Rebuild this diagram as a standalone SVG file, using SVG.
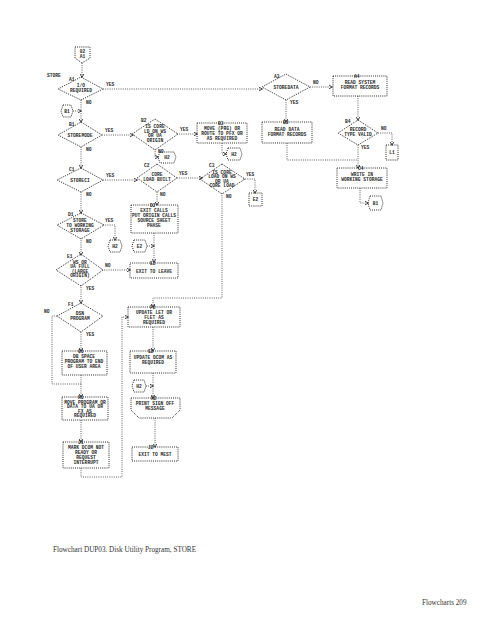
<svg xmlns="http://www.w3.org/2000/svg" width="495" height="640" viewBox="0 0 495 640">
<style>
.ln{fill:none;stroke:#3a3a3a;stroke-width:0.9;stroke-dasharray:0.9 1.3}
.sh{fill:none;stroke:#2a2a2a;stroke-width:1;stroke-dasharray:1 1.1}
.t{font-family:"Liberation Mono","DejaVu Sans Mono",monospace;font-size:4.6px;font-weight:bold;fill:#2a2a2a;text-anchor:middle}
.lb{font-family:"Liberation Mono","DejaVu Sans Mono",monospace;font-size:4.6px;font-weight:bold;fill:#2a2a2a}
.cap{font-family:"Liberation Serif","Times New Roman",serif;font-size:7.2px;fill:#333}
</style>
<defs>
<marker id="ar" viewBox="0 0 4 4" refX="3.5" refY="2" markerWidth="4" markerHeight="4" orient="auto" markerUnits="userSpaceOnUse">
<path d="M0,0 L4,2 L0,4" fill="none" stroke="#2a2a2a" stroke-width="0.8"/>
</marker>
</defs>
<rect width="495" height="640" fill="#fff"/>

<g id="connectors">
<path class="ln" d="M82,63 V77" marker-end="url(#ar)"/>
<path class="ln" d="M103,89 H262" marker-end="url(#ar)"/>
<path class="ln" d="M81,100 V122" marker-end="url(#ar)"/>
<path class="ln" d="M73,111 H81" marker-end="url(#ar)"/>
<path class="ln" d="M102,135 H133" marker-end="url(#ar)"/>
<path class="ln" d="M81,147 V168" marker-end="url(#ar)"/>
<path class="ln" d="M177,134 H197" marker-end="url(#ar)"/>
<path class="ln" d="M155,149 V157 H158" marker-end="url(#ar)"/>
<path class="ln" d="M222,143 V154 H226" marker-end="url(#ar)"/>
<path class="ln" d="M103,180 H137" marker-end="url(#ar)"/>
<path class="ln" d="M177,178 H202" marker-end="url(#ar)"/>
<path class="ln" d="M243,179 H255 V193" marker-end="url(#ar)"/>
<path class="ln" d="M222,193 V298 H153 V307" marker-end="url(#ar)"/>
<path class="ln" d="M157,192 V205" marker-end="url(#ar)"/>
<path class="ln" d="M154,233 V262" marker-end="url(#ar)"/>
<path class="ln" d="M147,246 H154" marker-end="url(#ar)"/>
<path class="ln" d="M81,192 V213" marker-end="url(#ar)"/>
<path class="ln" d="M103,225 H115 V240" marker-end="url(#ar)"/>
<path class="ln" d="M81,238 V255" marker-end="url(#ar)"/>
<path class="ln" d="M102,270 H130" marker-end="url(#ar)"/>
<path class="ln" d="M81,285 V303" marker-end="url(#ar)"/>
<path class="ln" d="M57,316 H52 V384 H81"/>
<path class="ln" d="M81,332 V351" marker-end="url(#ar)"/>
<path class="ln" d="M81,375 V397" marker-end="url(#ar)"/>
<path class="ln" d="M81,420 V442" marker-end="url(#ar)"/>
<path class="ln" d="M81,468 V477 H122 V317 H128" marker-end="url(#ar)"/>
<path class="ln" d="M153,327 V351" marker-end="url(#ar)"/>
<path class="ln" d="M153,373 V398" marker-end="url(#ar)"/>
<path class="ln" d="M146,386 H153" marker-end="url(#ar)"/>
<path class="ln" d="M155,418 V447" marker-end="url(#ar)"/>
<path class="ln" d="M310,87 H332" marker-end="url(#ar)"/>
<path class="ln" d="M286,100 V122" marker-end="url(#ar)"/>
<path class="ln" d="M358,96 V120" marker-end="url(#ar)"/>
<path class="ln" d="M378,133 H392 V145" marker-end="url(#ar)"/>
<path class="ln" d="M358,145 V168" marker-end="url(#ar)"/>
<path class="ln" d="M287,143 V160 H358"/>
<path class="ln" d="M360,188 V203 H368" marker-end="url(#ar)"/>
</g>

<g id="entry">
<polygon class="sh" points="75,47 90,47 90,58 82,63 75,58"/>
<text class="t" x="82.5" y="52.5">02</text>
<text class="t" x="82.5" y="57.5">A1</text>
<text class="lb" x="47" y="77">STORE</text>
</g>

<g id="A1">
<polygon class="sh" points="81,77 103,89 81,100 58,89"/>
<text class="lb" x="69" y="81">A1</text>
<text class="t" x="81" y="87">I/O</text>
<text class="t" x="81" y="92">REQUIRED</text>
<text class="lb" x="106" y="86">YES</text>
<text class="lb" x="86" y="104">NO</text>
</g>

<g id="B1c">
<polygon class="sh" points="63,105 71,105 73,111 71,117 63,117 61,111"/>
<text class="t" x="67" y="112.5">B1</text>
</g>

<g id="B1">
<polygon class="sh" points="81,122 102,135 81,147 58,135"/>
<text class="lb" x="69" y="126">B1</text>
<text class="t" x="80" y="136.5">STOREMODE</text>
<text class="lb" x="105" y="132">YES</text>
<text class="lb" x="86" y="151">NO</text>
</g>

<g id="B2">
<polygon class="sh" points="155,119 178,134 155,150 132,134"/>
<text class="lb" x="141" y="122">B2</text>
<text class="t" x="155" y="128">IS CORE</text>
<text class="t" x="155" y="132.5">LD ON WS</text>
<text class="t" x="155" y="137">OR UA</text>
<text class="t" x="155" y="141.5">ORIGIN</text>
<text class="lb" x="180" y="131">YES</text>
<text class="lb" x="158" y="153">NO</text>
</g>

<g id="H2a">
<polygon class="sh" points="160,152 174,152 176,157 174,163 160,163 158,157"/>
<text class="t" x="167" y="159">H2</text>
</g>

<g id="B3L">
<rect class="sh" x="197" y="123" width="50" height="20"/>
<text class="lb" x="218" y="124.5">B3</text>
<text class="t" x="222" y="129.5">MOVE (PRG) OR</text>
<text class="t" x="222" y="134.5">ROUTE TO PFX OR</text>
<text class="t" x="222" y="139.5">AS REQUIRED</text>
</g>

<g id="H2b">
<polygon class="sh" points="228,148 240,148 242,154 240,160 228,160 226,154"/>
<text class="t" x="234" y="156">H2</text>
</g>

<g id="C1">
<polygon class="sh" points="81,168 103,180 81,192 57,180"/>
<text class="lb" x="69" y="171">C1</text>
<text class="t" x="80" y="182">STORECI</text>
<text class="lb" x="106" y="177">YES</text>
<text class="lb" x="86" y="196">NO</text>
</g>

<g id="C2">
<polygon class="sh" points="157,164 177,178 157,192 137,178"/>
<text class="lb" x="144" y="167">C2</text>
<text class="t" x="157" y="176">CORE</text>
<text class="t" x="157" y="181">LOAD BUILT</text>
<text class="lb" x="179" y="175">YES</text>
<text class="lb" x="160" y="196">NO</text>
</g>

<g id="C3">
<polygon class="sh" points="222,164 245,179 222,194 200,179"/>
<text class="lb" x="209" y="167">C3</text>
<text class="t" x="222" y="173.5">IS CORE</text>
<text class="t" x="222" y="178">LOAD ON WS</text>
<text class="t" x="222" y="182.5">OR UA</text>
<text class="t" x="222" y="187">CORE LOAD</text>
<text class="lb" x="246" y="176">YES</text>
<text class="lb" x="226" y="198">NO</text>
</g>

<g id="E2c">
<rect class="sh" x="249" y="193" width="13" height="13"/>
<text class="t" x="255.5" y="201">E2</text>
</g>

<g id="D2">
<rect class="sh" x="131" y="205" width="47" height="28"/>
<text class="lb" x="150" y="206.5">D2</text>
<text class="t" x="154" y="212">EXIT CALLS</text>
<text class="t" x="154" y="217">PUT ORIGIN CALLS</text>
<text class="t" x="154" y="222">SOURCE SHEET</text>
<text class="t" x="154" y="227">PHASE</text>
</g>

<g id="E2conn">
<polygon class="sh" points="134,240 145,240 147,246 145,252 134,252 132,246"/>
<text class="t" x="139.5" y="248">E2</text>
</g>

<g id="D1">
<polygon class="sh" points="81,213 104,225 81,239 57,225"/>
<text class="lb" x="68" y="216">D1</text>
<text class="t" x="80" y="221.5">STORE</text>
<text class="t" x="80" y="226.5">TO WORKING</text>
<text class="t" x="80" y="231.5">STORAGE</text>
<text class="lb" x="105" y="222">YES</text>
<text class="lb" x="86" y="243">NO</text>
</g>

<g id="H2c">
<polygon class="sh" points="110,240 120,240 122,246 120,252 110,252 108,246"/>
<text class="t" x="115" y="248">H2</text>
</g>

<g id="E1">
<polygon class="sh" points="81,254 103,270 81,286 56,270"/>
<text class="lb" x="67" y="258">E1</text>
<text class="t" x="80" y="263.5">WS OR</text>
<text class="t" x="80" y="268">UA FULL</text>
<text class="t" x="80" y="272.5">(LARGE</text>
<text class="t" x="80" y="277">ORIGIN)</text>
<text class="lb" x="105" y="267">NO</text>
<text class="lb" x="86" y="290">YES</text>
</g>

<g id="E2">
<rect class="sh" x="130" y="263" width="48" height="15"/>
<text class="lb" x="150" y="264.5">E2</text>
<text class="t" x="154" y="273">EXIT TO LEAVE</text>
</g>

<g id="F1">
<polygon class="sh" points="81,303 103,316 81,332 57,316"/>
<text class="lb" x="68" y="306">F1</text>
<text class="t" x="80" y="315">DSN</text>
<text class="t" x="80" y="320">PROGRAM</text>
<text class="lb" x="44" y="313">NO</text>
<text class="lb" x="86" y="336">YES</text>
</g>

<g id="F2">
<rect class="sh" x="128" y="307" width="52" height="20"/>
<text class="lb" x="150" y="308.5">F2</text>
<text class="t" x="154" y="313.5">UPDATE LET OR</text>
<text class="t" x="154" y="318.5">FLET AS</text>
<text class="t" x="154" y="323.5">REQUIRED</text>
</g>

<g id="G1">
<rect class="sh" x="62" y="351" width="45" height="24"/>
<text class="lb" x="78" y="352.5">G1</text>
<text class="t" x="84" y="358">DB SPACE</text>
<text class="t" x="84" y="363">PROGRAM TO END</text>
<text class="t" x="84" y="368">OF USER AREA</text>
</g>

<g id="G2">
<rect class="sh" x="130" y="351" width="46" height="22"/>
<text class="lb" x="148" y="352.5">G2</text>
<text class="t" x="153" y="359">UPDATE DCOM AS</text>
<text class="t" x="153" y="364">REQUIRED</text>
</g>

<g id="H2conn">
<polygon class="sh" points="134,380 144,380 146,386 144,392 134,392 132,386"/>
<text class="t" x="139" y="388">H2</text>
</g>

<g id="H1">
<rect class="sh" x="62" y="397" width="46" height="23"/>
<text class="lb" x="78" y="398.5">H1</text>
<text class="t" x="85" y="403.5">MOVE PROGRAM OR</text>
<text class="t" x="85" y="408">DATA TO UA OR</text>
<text class="t" x="85" y="412.5">FX AS</text>
<text class="t" x="85" y="417">REQUIRED</text>
</g>

<g id="H2">
<polygon class="sh" points="131,398 180,398 180,410 172,418 139,418 131,410"/>
<text class="lb" x="151" y="399.5">H2</text>
<text class="t" x="155" y="405">PRINT SIGN OFF</text>
<text class="t" x="155" y="410">MESSAGE</text>
</g>

<g id="J1">
<rect class="sh" x="63" y="442" width="46" height="26"/>
<text class="lb" x="78" y="443.5">J1</text>
<text class="t" x="86" y="449">MARK DCOM NOT</text>
<text class="t" x="86" y="454">READY OR</text>
<text class="t" x="86" y="459">REQUEST</text>
<text class="t" x="86" y="464">INTERRUPT</text>
</g>

<g id="J2">
<rect class="sh" x="132" y="447" width="46" height="14"/>
<text class="lb" x="148" y="448.5">J2</text>
<text class="t" x="155" y="456">EXIT TO MEST</text>
</g>

<g id="A3">
<polygon class="sh" points="286,74 310,87 286,100 262,87"/>
<text class="lb" x="274" y="78">A3</text>
<text class="t" x="286" y="89">STOREDATA</text>
<text class="lb" x="313" y="84">NO</text>
<text class="lb" x="290" y="104">YES</text>
</g>

<g id="A4">
<rect class="sh" x="333" y="76" width="54" height="20"/>
<text class="lb" x="354" y="77.5">A4</text>
<text class="t" x="360" y="84">READ SYSTEM</text>
<text class="t" x="360" y="89">FORMAT RECORDS</text>
</g>

<g id="B3">
<rect class="sh" x="262" y="122" width="50" height="21"/>
<text class="lb" x="283" y="123.5">B3</text>
<text class="t" x="287" y="131">READ DATA</text>
<text class="t" x="287" y="136">FORMAT RECORDS</text>
</g>

<g id="B4">
<polygon class="sh" points="358,120 378,133 358,145 338,133"/>
<text class="lb" x="345" y="123">B4</text>
<text class="t" x="358" y="131">RECORD</text>
<text class="t" x="358" y="136">TYPE VALID</text>
<text class="lb" x="381" y="130">NO</text>
<text class="lb" x="361" y="149">YES</text>
</g>

<g id="L1c">
<rect class="sh" x="386" y="145" width="12" height="15"/>
<text class="t" x="392" y="154">L1</text>
</g>

<g id="C4">
<rect class="sh" x="337" y="168" width="50" height="20"/>
<text class="lb" x="358" y="169.5">C4</text>
<text class="t" x="362" y="176">WRITE IN</text>
<text class="t" x="362" y="181">WORKING STORAGE</text>
</g>

<g id="B1exit">
<polygon class="sh" points="370,196 381,196 383,203 381,210 370,210 368,203"/>
<text class="t" x="375.5" y="205">B1</text>
</g>

<text class="cap" x="53" y="552">Flowchart DUP03.  Disk Utility Program, STORE</text>
<text class="cap" x="422" y="605">Flowcharts  209</text>
</svg>
